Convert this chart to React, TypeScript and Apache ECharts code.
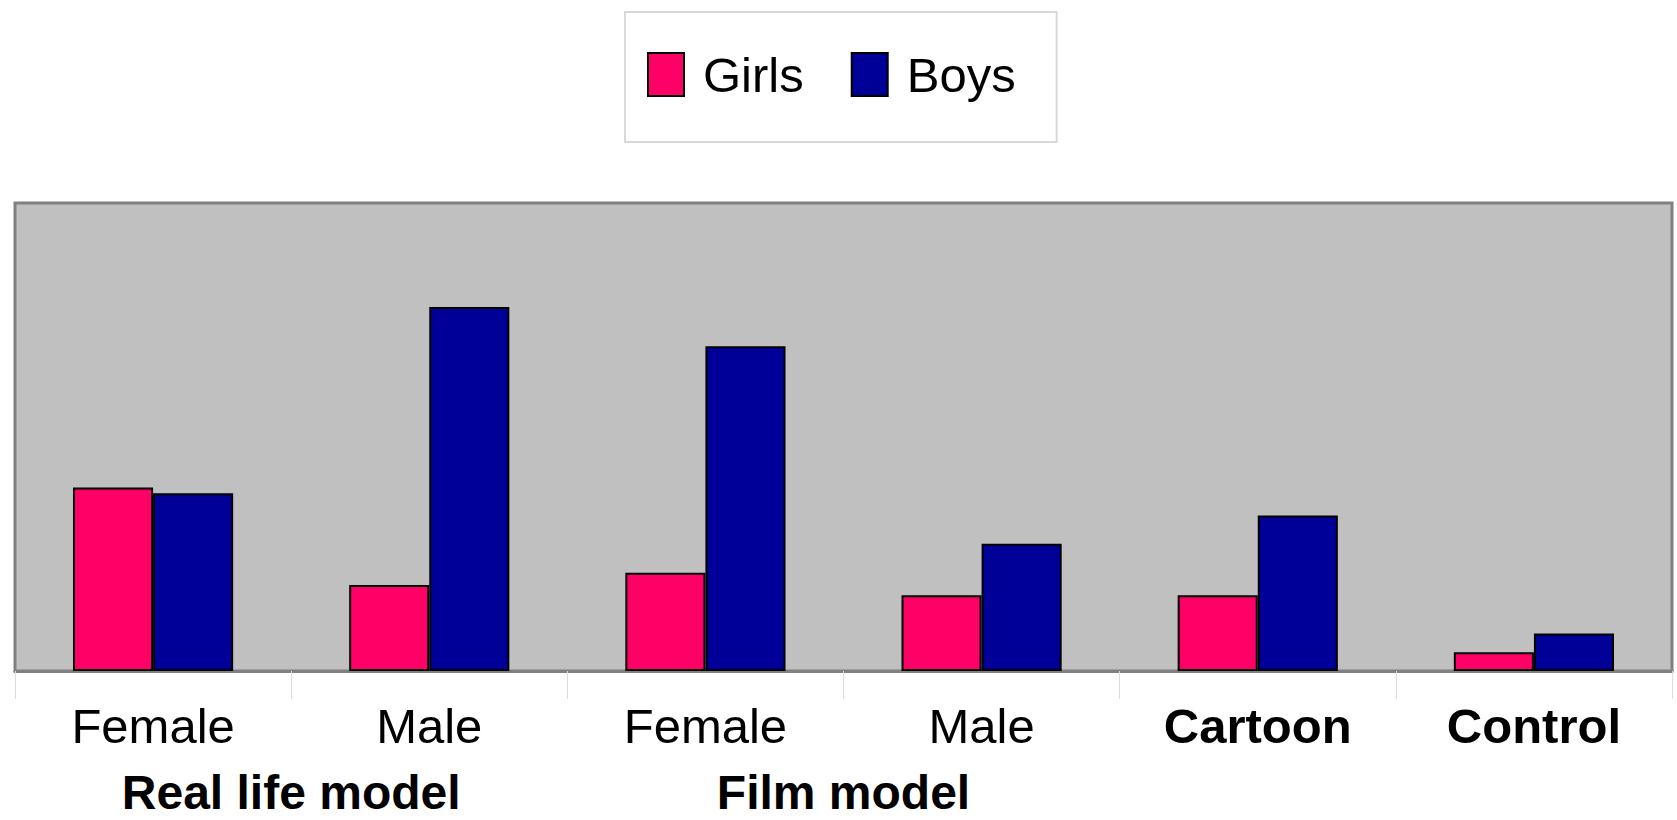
import React, { useEffect, useRef } from "react";
import * as echarts from "echarts";

const categories = ["Female", "Male", "Female", "Male", "Cartoon", "Control"];
const boldCategories = ["Cartoon", "Control"];
const groupLabels = ["", "Real life model", "", "Film model", "", "", ""];
const seriesNames = ["Girls", "Boys"];
const girls = [19.6, 9.2, 10.5, 8.1, 8.1, 2.0];
const boys = [19.0, 38.9, 34.7, 13.6, 16.6, 4.0];

export default function App() {
  const ref = useRef<HTMLDivElement>(null);
  useEffect(() => {
    if (!ref.current) return;
    const chart = echarts.init(ref.current, undefined, { renderer: "svg" });
    const font = "'Liberation Sans', Arial, Helvetica, sans-serif";
    chart.setOption({
      animation: false,
      backgroundColor: "#ffffff",
      legend: {
        data: seriesNames,
        left: 625,
        top: 12,
        orient: "horizontal",
        icon: "rect",
        backgroundColor: "#ffffff",
        borderColor: "#d8d8d8",
        borderWidth: 2,
        padding: [38, 41, 43, 22],
        itemWidth: 36,
        itemHeight: 43,
        itemGap: 47,
        selectedMode: false,
        textStyle: {
          fontSize: 49,
          lineHeight: 43,
          color: "#000",
          fontFamily: font,
          padding: [0, 0, 0, 14],
        },
      },
      grid: {
        left: 15,
        right: 5,
        top: 203,
        bottom: 149,
        show: true,
        backgroundColor: "#C0C0C0",
        borderColor: "#808080",
        borderWidth: 3,
        containLabel: false,
      },
      xAxis: [
        {
          type: "category",
          data: categories,
          boundaryGap: true,
          axisLine: { show: true, lineStyle: { color: "#808080", width: 3 } },
          axisTick: {
            show: true,
            interval: 0,
            length: 28,
            lineStyle: { color: "#dcdcdc", width: 1 },
          },
          axisLabel: {
            interval: 0,
            margin: 30,
            fontSize: 49,
            lineHeight: 49,
            color: "#000",
            fontFamily: font,
            formatter: (v: string) =>
              boldCategories.includes(v) ? `{b|${v}}` : v,
            rich: {
              b: {
                fontSize: 49,
                lineHeight: 49,
                fontWeight: "bold",
                color: "#000",
                fontFamily: font,
              },
            },
          },
          splitLine: { show: false },
        },
        {
          type: "value",
          position: "bottom",
          min: 0,
          max: categories.length,
          interval: 1,
          axisLine: { show: false },
          axisTick: { show: false },
          splitLine: { show: false },
          axisLabel: {
            show: true,
            margin: 101,
            fontSize: 48,
            lineHeight: 40,
            fontWeight: "bold",
            color: "#000",
            fontFamily: font,
            showMinLabel: true,
            showMaxLabel: true,
            formatter: (v: number) => groupLabels[Math.round(v)] || "",
          },
        },
      ],
      yAxis: {
        type: "value",
        min: 0,
        max: 50,
        show: false,
        splitLine: { show: false },
      },
      series: [
        {
          name: seriesNames[0],
          type: "bar",
          xAxisIndex: 0,
          data: girls,
          barWidth: "29%",
          barGap: "0%",
          itemStyle: { color: "#FF0066", borderColor: "#000", borderWidth: 2 },
        },
        {
          name: seriesNames[1],
          type: "bar",
          xAxisIndex: 0,
          data: boys,
          barWidth: "29%",
          barGap: "0%",
          itemStyle: { color: "#000099", borderColor: "#000", borderWidth: 2 },
        },
      ],
    });
    return () => chart.dispose();
  }, []);
  return (
    <div
      ref={ref}
      style={{ position: "fixed", left: 0, top: 0, width: 1677, height: 820 }}
    />
  );
}
